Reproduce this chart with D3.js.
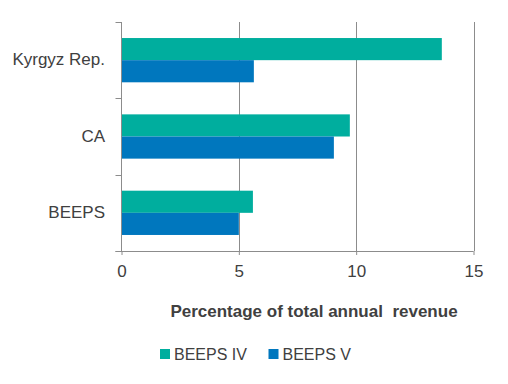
<!DOCTYPE html>
<meta charset="utf-8">
<script src="https://cdn.jsdelivr.net/npm/d3@7"></script>
<style>
  body { margin: 0; background: #fff; }
  text { font-family: "Liberation Sans", sans-serif; fill: #404040; }
</style>
<body>
<script>
  // data
  var categories = ["Kyrgyz Rep.", "CA", "BEEPS"];
  var series = ["BEEPS IV", "BEEPS V"];
  var beepsIV = [13.65, 9.73, 5.6];
  var beepsV = [5.64, 9.05, 5.0];
  var xTicks = [0, 5, 10, 15];
  var colors = ["#00ae9e", "#0077be"];

  var width = 508, height = 384;
  var plotLeft = 121.5, plotRight = 473.5, plotTop = 22, plotBottom = 251;

  var svg = d3.select("body").append("svg")
    .attr("width", width)
    .attr("height", height);

  var x = d3.scaleLinear().domain([0, 15]).range([plotLeft, plotRight]);

  // category bands (ticks sit on band edges)
  var y = d3.scaleBand().domain(categories).range([plotTop, plotBottom])
    .paddingInner(0.42).paddingOuter(0.21);
  var inner = d3.scaleBand().domain(series).range([0, y.bandwidth()]);
  var step = y.step();

  // vertical gridlines
  svg.append("g")
    .selectAll("line")
    .data(xTicks.filter(function (d) { return d > 0; }))
    .enter().append("line")
    .attr("x1", function (d) { return Math.round(x(d)) + 0.5; })
    .attr("x2", function (d) { return Math.round(x(d)) + 0.5; })
    .attr("y1", plotTop)
    .attr("y2", plotBottom)
    .style("stroke", "#8c8c8c")
    .style("stroke-width", 1);

  // bars
  var rows = categories.map(function (c, i) {
    return { cat: c, vals: [beepsIV[i], beepsV[i]] };
  });

  var g = svg.append("g")
    .selectAll("g")
    .data(rows)
    .enter().append("g")
    .attr("transform", function (d) { return "translate(0," + y(d.cat) + ")"; });

  g.selectAll("rect")
    .data(function (d) { return d.vals.map(function (v, j) { return { s: series[j], v: v, j: j }; }); })
    .enter().append("rect")
    .attr("x", x(0))
    .attr("y", function (d) { return inner(d.s); })
    .attr("width", function (d) { return x(d.v) - x(0); })
    .attr("height", inner.bandwidth())
    .style("fill", function (d) { return colors[d.j]; });

  // x axis
  var xAxis = svg.append("g")
    .attr("transform", "translate(0," + plotBottom + ")")
    .call(d3.axisBottom(x).tickValues(xTicks).tickSize(4).tickPadding(10));
  xAxis.select(".domain").attr("d", "M" + (plotLeft - 6) + ",0.5H" + plotRight).style("stroke", "#8c8c8c");
  xAxis.selectAll(".tick line").style("stroke", "#8c8c8c");
  xAxis.selectAll(".tick text")
    .style("font-size", "17px")
    .style("font-family", "'Liberation Sans', sans-serif")
    .style("fill", "#404040");

  // y axis: line with ticks at band edges
  svg.append("line")
    .attr("x1", plotLeft).attr("x2", plotLeft)
    .attr("y1", plotTop).attr("y2", plotBottom)
    .style("stroke", "#8c8c8c");
  svg.append("g")
    .selectAll("line")
    .data(d3.range(categories.length + 1))
    .enter().append("line")
    .attr("x1", plotLeft - 6).attr("x2", plotLeft)
    .attr("y1", function (i) { return Math.round(plotTop + i * step) + 0.5; })
    .attr("y2", function (i) { return Math.round(plotTop + i * step) + 0.5; })
    .style("stroke", "#8c8c8c");

  svg.append("g")
    .selectAll("text")
    .data(categories)
    .enter().append("text")
    .attr("x", 105)
    .attr("y", function (d) { return y(d) + y.bandwidth() / 2; })
    .attr("dy", "0.3em")
    .attr("text-anchor", "end")
    .style("font-size", "17px")
    .text(function (d) { return d; });

  // axis title
  svg.append("text")
    .attr("x", 314)
    .attr("y", 317)
    .attr("text-anchor", "middle")
    .style("font-size", "17px")
    .style("font-weight", 700)
    .style("white-space", "pre")
    .text("Percentage of total annual  revenue");

  // legend
  var legendX = [160, 268.5];
  var leg = svg.append("g")
    .selectAll("g")
    .data(series)
    .enter().append("g")
    .attr("transform", function (d, i) { return "translate(" + legendX[i] + ",354)"; });
  leg.append("rect")
    .attr("x", 0).attr("y", -5)
    .attr("width", 10).attr("height", 10)
    .style("fill", function (d, i) { return colors[i]; });
  leg.append("text")
    .attr("x", 14)
    .attr("dy", "0.35em")
    .style("font-size", "16px")
    .text(function (d) { return d; });
</script>
</body>
